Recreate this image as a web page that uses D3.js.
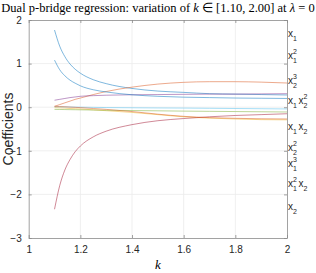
<!DOCTYPE html>
<html>
<head>
<meta charset="utf-8">
<script src="https://cdn.jsdelivr.net/npm/d3@7"></script>
<style>
  body { margin: 0; background: #fff; }
  svg { display: block; }
</style>
</head>
<body>
<div id="chart"></div>
<script>
var svgWidth = 316;
var svgHeight = 273;

// k values along the x axis
var kValues = [1.1, 1.12, 1.14, 1.16, 1.18, 1.2, 1.25, 1.3, 1.4, 1.5, 1.6, 1.7, 1.8, 1.9, 2.0];

// coefficient paths (matlab colour order)
var blueA   = [1.77, 1.40, 1.16, 0.99, 0.87, 0.78, 0.63, 0.54, 0.43, 0.37, 0.34, 0.31, 0.30, 0.29, 0.28];
var orangeA = [0.02, 0.06, 0.10, 0.14, 0.18, 0.21, 0.29, 0.36, 0.46, 0.53, 0.57, 0.585, 0.585, 0.575, 0.555];
var yellow  = [-0.01, -0.015, -0.02, -0.03, -0.035, -0.04, -0.06, -0.08, -0.12, -0.17, -0.22, -0.25, -0.27, -0.285, -0.29];
var purple  = [0.16, 0.18, 0.20, 0.22, 0.235, 0.25, 0.265, 0.275, 0.285, 0.29, 0.295, 0.30, 0.30, 0.305, 0.31];
var green   = [-0.05, -0.052, -0.054, -0.056, -0.058, -0.06, -0.065, -0.07, -0.077, -0.083, -0.09, -0.095, -0.10, -0.105, -0.11];
var lightBlue = [0.01, 0.008, 0.006, 0.004, 0.002, 0.0, -0.004, -0.008, -0.013, -0.017, -0.02, -0.025, -0.03, -0.035, -0.04];
var darkRed = [-2.34, -1.80, -1.44, -1.20, -1.02, -0.89, -0.68, -0.55, -0.40, -0.31, -0.26, -0.22, -0.19, -0.17, -0.15];
var blueB   = [1.08, 0.86, 0.72, 0.62, 0.55, 0.49, 0.40, 0.35, 0.285, 0.25, 0.23, 0.22, 0.21, 0.205, 0.20];
var orangeB = [0.02, 0.015, 0.01, 0.003, -0.003, -0.01, -0.03, -0.05, -0.10, -0.16, -0.21, -0.24, -0.255, -0.265, -0.27];

var seriesList = [blueA, orangeA, yellow, purple, green, lightBlue, darkRed, blueB, orangeB];
var colors = ["#0072bd", "#d95319", "#edb120", "#7e2f8e", "#77ac30", "#4dbeee", "#a2142f", "#0072bd", "#d95319"];

var xTicks = [1, 1.2, 1.4, 1.6, 1.8, 2];
var yTicks = [-3, -2, -1, 0, 1, 2];

// term labels on the right: each factor is [base, subscript, superscript]
var termLabels = [
  [["x", "1", ""]],
  [["x", "1", "2"]],
  [["x", "2", "3"]],
  [["x", "1", ""], ["x", "2", "2"]],
  [["x", "1", ""], ["x", "2", ""]],
  [["x", "2", "2"]],
  [["x", "1", "3"]],
  [["x", "1", "2"], ["x", "2", ""]],
  [["x", "2", ""]]
];
var termLabelY = [37, 59, 84, 104, 130, 151, 167, 187, 210];

var plot = { left: 28.7, right: 287, top: 20, bottom: 238 };

var svg = d3.select("#chart")
  .append("svg")
  .attr("width", svgWidth)
  .attr("height", svgHeight);

var xScale = d3.scaleLinear().domain([1, 2]).range([plot.left, plot.right]);
var yScale = d3.scaleLinear().domain([-3, 2]).range([plot.bottom, plot.top]);

// grid
var grid = svg.append("g").attr("stroke", "#ebebeb").attr("stroke-width", 0.8);
xTicks.slice(1, -1).forEach(function(t) {
  grid.append("line")
    .attr("x1", xScale(t)).attr("x2", xScale(t))
    .attr("y1", plot.top).attr("y2", plot.bottom);
});
yTicks.slice(1, -1).forEach(function(t) {
  grid.append("line")
    .attr("x1", plot.left).attr("x2", plot.right)
    .attr("y1", yScale(t)).attr("y2", yScale(t));
});

// lines
var line = d3.line()
  .x(function(d, i) { return xScale(kValues[i]); })
  .y(function(d) { return yScale(d); })
  .curve(d3.curveMonotoneX);

svg.append("g").selectAll("path")
  .data(seriesList)
  .enter()
  .append("path")
  .attr("d", line)
  .attr("fill", "none")
  .attr("stroke", function(d, i) { return colors[i]; })
  .attr("stroke-opacity", 0.5)
  .attr("stroke-width", 1);

// axes, matlab style: ticks inside, box on
var bottomAxis = d3.axisBottom(xScale).tickValues(xTicks).tickSizeInner(-3).tickSizeOuter(0)
  .tickPadding(8).tickFormat(d3.format("~g"));
var leftAxis = d3.axisLeft(yScale).tickValues(yTicks).tickSizeInner(-3).tickSizeOuter(0)
  .tickPadding(7).tickFormat(d3.format("~g"));
var topAxis = d3.axisTop(xScale).tickValues(xTicks).tickSizeInner(-3).tickSizeOuter(0).tickFormat("");
var rightAxis = d3.axisRight(yScale).tickValues(yTicks).tickSizeInner(-3).tickSizeOuter(0).tickFormat("");

function styleAxis(g) {
  g.select(".domain").attr("stroke", "#8a8a8a").attr("stroke-width", 0.8);
  g.selectAll(".tick line").attr("stroke", "#8a8a8a").attr("stroke-width", 0.8);
  g.selectAll(".tick text")
    .attr("fill", "#262626")
    .style("font-family", "'Liberation Sans', Arial, sans-serif")
    .style("font-size", "10px");
}

svg.append("g").attr("transform", "translate(0," + plot.bottom + ")").call(bottomAxis).call(styleAxis);
svg.append("g").attr("transform", "translate(" + plot.left + ",0)").call(leftAxis).call(styleAxis);
svg.append("g").attr("transform", "translate(0," + plot.top + ")").call(topAxis).call(styleAxis);
svg.append("g").attr("transform", "translate(" + plot.right + ",0)").call(rightAxis).call(styleAxis);

// title
var title = svg.append("text")
  .attr("x", svgWidth / 2)
  .attr("y", 12)
  .attr("text-anchor", "middle")
  .attr("fill", "#000")
  .style("font-family", "'Liberation Serif', 'Times New Roman', serif")
  .style("font-size", "12.5px");
title.append("tspan").text("Dual p-bridge regression:  variation of ");
title.append("tspan").style("font-style", "italic").text("k");
title.append("tspan").text(" \u2208 [1.10, 2.00] at ");
title.append("tspan").style("font-style", "italic").text("\u03bb");
title.append("tspan").text(" = 0");

// axis labels
svg.append("text")
  .attr("x", xScale(1.5))
  .attr("y", 269)
  .attr("text-anchor", "middle")
  .style("font-family", "'Liberation Serif', serif")
  .style("font-style", "italic")
  .style("font-size", "13px")
  .text("k");

svg.append("text")
  .attr("transform", "translate(13," + (plot.top + plot.bottom) / 2 + ") rotate(-90)")
  .attr("text-anchor", "middle")
  .attr("fill", "#262626")
  .style("font-family", "'Liberation Sans', Arial, sans-serif")
  .style("font-size", "14px")
  .text("Coefficients");

// term labels
var labelFont = "'Liberation Sans', Arial, sans-serif";
termLabels.forEach(function(parts, i) {
  var g = svg.append("g")
    .attr("transform", "translate(288," + termLabelY[i] + ")")
    .attr("fill", "#262626")
    .style("font-family", labelFont);
  parts.forEach(function(p, j) {
    var x0 = j * 10.5;
    g.append("text").attr("x", x0).attr("y", 0).style("font-size", "10px").text(p[0]);
    g.append("text").attr("x", x0 + 5).attr("y", 4).style("font-size", "7px").text(p[1]);
    if (p[2]) {
      g.append("text").attr("x", x0 + 5).attr("y", -5).style("font-size", "7px").text(p[2]);
    }
  });
});
</script>
</body>
</html>
